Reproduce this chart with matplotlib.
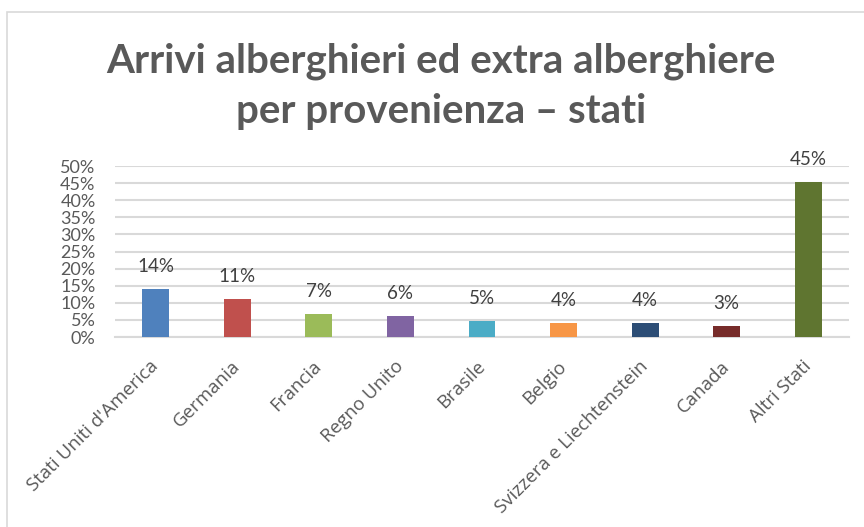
import matplotlib
matplotlib.use('Agg')
from matplotlib import pyplot as plt
from matplotlib.patches import Rectangle

# data
paesi = ['Stati Uniti d\'America', 'Germania', 'Francia', 'Regno Unito', 'Brasile',
         'Belgio', 'Svizzera e Liechtenstein', 'Canada', 'Altri Stati']
quote = [14.1, 11.1, 6.7, 6.1, 4.7, 4.1, 4.0, 3.2, 45.3]
etichette = ['14%', '11%', '7%', '6%', '5%', '4%', '4%', '3%', '45%']
colori = ['#4F81BD', '#C0504D', '#9BBB59', '#8064A2', '#4BACC6',
          '#F79646', '#2C4D75', '#772C2A', '#5F7530']
titolo = 'Arrivi alberghieri ed extra alberghiere\nper provenienza – stati'

W, H = 864, 527
fig = plt.figure(figsize=(W / 100, H / 100), dpi=100)
ax = fig.add_axes([115 / W, 1 - 337 / H, (849 - 115) / W, (337 - 166) / H])

# chart border
fig.patches.append(Rectangle((7 / W, -0.01), 1.0, 1 - 12 / H + 0.01, transform=fig.transFigure,
                             fill=False, edgecolor='#D9D9D9', linewidth=1.2))

x = list(range(len(paesi)))
ax.bar(x, quote, width=0.33, color=colori, zorder=3)
for xi, v, t in zip(x, quote, etichette):
    ax.annotate(t, (xi, v), xytext=(0, 10), textcoords='offset points',
                ha='center', va='bottom', fontsize=13.5, color='#404040', family='Lato')

ax.set_xlim(-0.5, len(paesi) - 0.5)
ax.set_ylim(0, 50)
ax.set_yticks(range(0, 51, 5))
ax.set_yticklabels([f'{v}%' for v in range(0, 51, 5)], fontsize=13, color='#595959', family='Lato')
ax.yaxis.grid(True, color='#D9D9D9', linewidth=1.5, zorder=0)
ax.tick_params(length=0)
ax.tick_params(axis='y', pad=14)
for s in ['top', 'right', 'left']:
    ax.spines[s].set_visible(False)
ax.spines['bottom'].set_color('#D9D9D9')
ax.spines['bottom'].set_linewidth(1.5)

ax.set_xticks(x)
ax.set_xticklabels(paesi, rotation=45, ha='right', va='center', rotation_mode='anchor',
                   fontsize=13.5, color='#595959', family='Open Sans')
ax.tick_params(axis='x', pad=19)

fig.text(0.51, 1 - 43 / H, titolo, ha='center', va='top', fontsize=29, fontweight='bold',
         color='#595959', family='Lato', linespacing=1.42)

plt.savefig('out.png', dpi=100)
